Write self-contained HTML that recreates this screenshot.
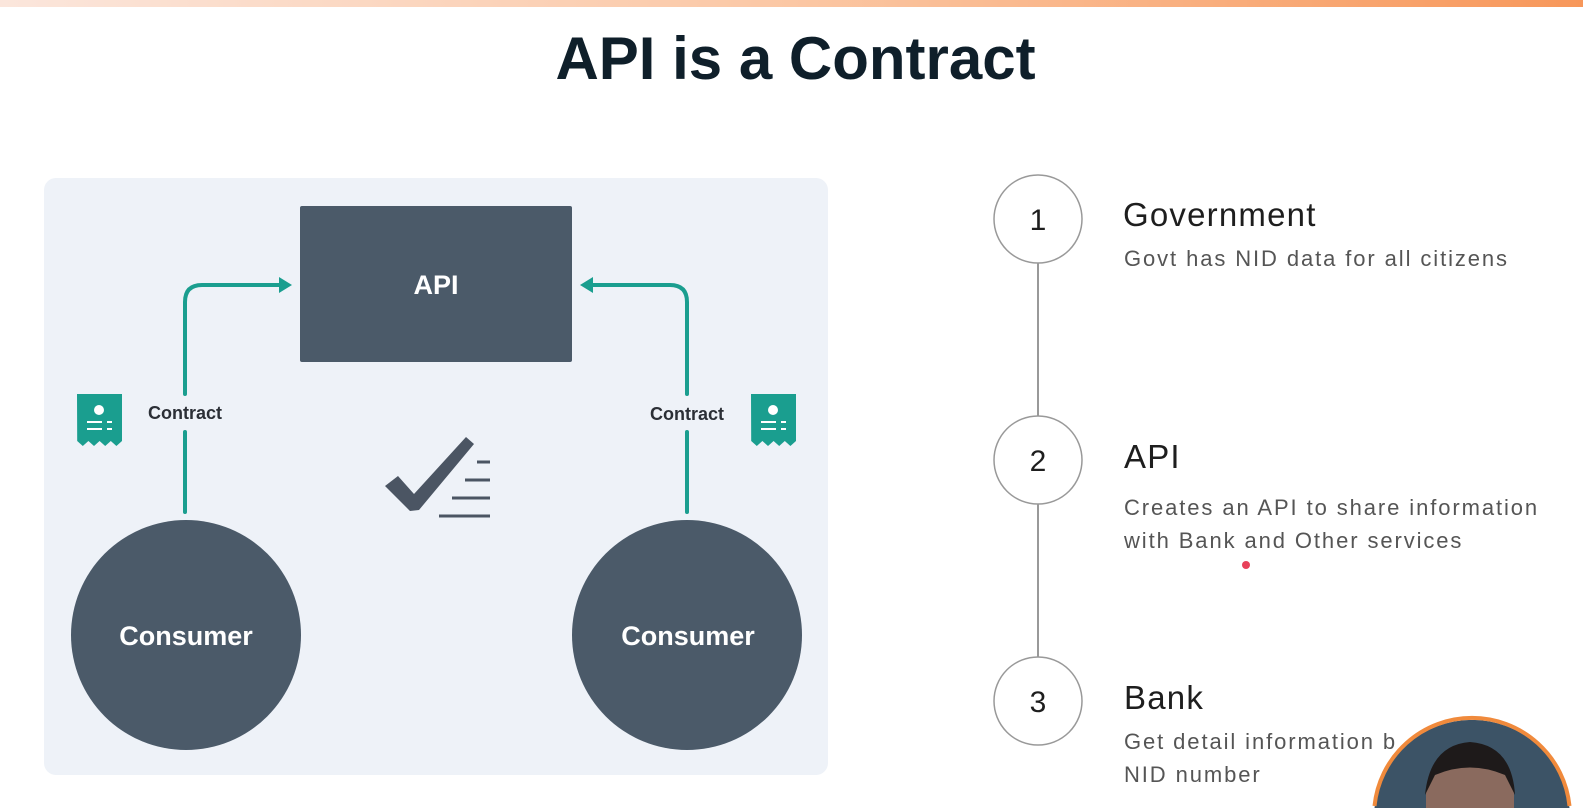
<!DOCTYPE html>
<html style="overflow:hidden"><head><style>
html,body{margin:0;padding:0;width:1583px;height:808px;overflow:hidden}
body{background:#fff;font-family:"Liberation Sans",sans-serif}
#root{position:relative;width:1583px;height:808px;overflow:hidden}
.t{position:absolute;color:#1e1e1e;white-space:nowrap}
.d{font-size:22px;color:#555;letter-spacing:1.9px;line-height:33px}
.h{font-size:33px;letter-spacing:1.2px;line-height:38px}
svg{display:block}
</style></head><body><div id="root">
<div style="position:absolute;left:0;top:0;width:1583px;height:7px;background:linear-gradient(90deg,#fbe6dc,#fbc7a4 50%,#f7975a)"></div>
<div class="t" style="left:8px;width:1575px;top:24px;text-align:center;font-size:60px;line-height:70px;font-weight:bold;color:#0f1f2a">API is a Contract</div>
<svg style="position:absolute;left:0;top:0" width="1583" height="808" viewBox="0 0 1583 808">
<rect x="44" y="178" width="784" height="597" rx="12" fill="#eef2f8"/>
<rect x="300" y="206" width="272" height="156" rx="2" fill="#4b5a69"/>
<text x="436" y="294" text-anchor="middle" font-size="27" font-weight="bold" fill="#fff" font-family="Liberation Sans">API</text>
<circle cx="186" cy="635" r="115" fill="#4b5a69"/>
<circle cx="687" cy="635" r="115" fill="#4b5a69"/>
<text x="186" y="645" text-anchor="middle" font-size="27" font-weight="bold" fill="#fff" font-family="Liberation Sans">Consumer</text>
<text x="688" y="645" text-anchor="middle" font-size="27" font-weight="bold" fill="#fff" font-family="Liberation Sans">Consumer</text>
<g stroke="#1a9e8f" stroke-width="4" fill="none" stroke-linecap="round">
<path d="M185 512 V432 M185 394 V302 Q185 285 202 285 H282"/>
<path d="M687 512 V432 M687 394 V302 Q687 285 670 285 H590"/>
</g>
<path d="M292 285 L279 277 L279 293Z" fill="#1a9e8f"/>
<path d="M580 285 L593 277 L593 293Z" fill="#1a9e8f"/>
<text x="185" y="419" text-anchor="middle" font-size="18" font-weight="bold" fill="#2b2f36" font-family="Liberation Sans">Contract</text>
<text x="687" y="420" text-anchor="middle" font-size="18" font-weight="bold" fill="#2b2f36" font-family="Liberation Sans">Contract</text>
<g id="rc"><path d="M77 394 H122 V441 l-5.6 5 -5.6-5 -5.6 5 -5.6-5 -5.6 5 -5.6-5 -5.6 5 -5.6-5Z" fill="#1a9e8f"/>
<circle cx="99" cy="410" r="5" fill="#fff"/><rect x="87" y="421" width="15" height="2" fill="#fff"/><rect x="87" y="428" width="15" height="2" fill="#fff"/><rect x="107" y="421" width="5" height="2" fill="#fff"/><rect x="107" y="428" width="5" height="2" fill="#fff"/></g>
<use href="#rc" x="674" y="0"/>
<path d="M385 486 L398 476 L414 494 L466 437 L474 444 L419 510 L410 511Z" fill="#4b5563"/>
<g stroke="#4b5563" stroke-width="3"><line x1="477" y1="462" x2="490" y2="462"/><line x1="465" y1="480" x2="490" y2="480"/><line x1="452" y1="498" x2="490" y2="498"/><line x1="439" y1="516" x2="490" y2="516"/></g>
<line x1="1038" y1="263" x2="1038" y2="657" stroke="#999" stroke-width="2"/>
<g fill="#fff" stroke="#999" stroke-width="1.5"><circle cx="1038" cy="219" r="44"/><circle cx="1038" cy="460" r="44"/><circle cx="1038" cy="701" r="44"/></g>
<g font-size="30" text-anchor="middle" fill="#1e1e1e" font-family="Liberation Sans"><text x="1038" y="230">1</text><text x="1038" y="471">2</text><text x="1038" y="712">3</text></g>
<circle cx="1246" cy="565" r="4" fill="#e8415a"/>
</svg>
<div class="t h" style="left:1123px;top:196px">Government</div>
<div class="t d" style="left:1124px;top:242px">Govt has NID data for all citizens</div>
<div class="t h" style="left:1124px;top:438px">API</div>
<div class="t d" style="left:1124px;top:491px">Creates an API to share information<br>with Bank and Other services</div>
<div class="t h" style="left:1124px;top:679px">Bank</div>
<div class="t d" style="left:1124px;top:725px">Get detail information b<br>NID number</div>
<svg style="position:absolute;left:0;top:0" width="1583" height="808" viewBox="0 0 1583 808">
<path d="M1374.5 808 A98 98 0 0 1 1569.5 808 Z" fill="#3c5366"/>
<path d="M1374.5 806 A98 98 0 0 1 1569.5 806" fill="none" stroke="#f08a3c" stroke-width="4"/>
<path d="M1426 808 V795 Q1426 755 1470 755 Q1514 755 1514 795 V808Z" fill="#8a6a5e"/>
<path d="M1425 795 Q1430 745 1470 742 Q1512 745 1515 795 L1505 775 Q1470 760 1435 775Z" fill="#1e1a1a"/>
</svg>
</div></body></html>
